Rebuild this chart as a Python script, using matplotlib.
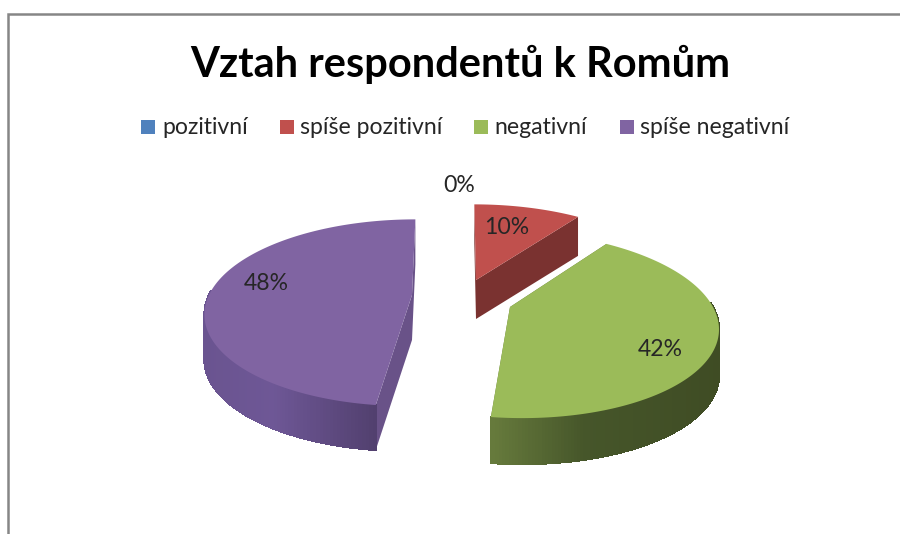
import matplotlib
matplotlib.use('Agg')
import matplotlib.pyplot as plt
from matplotlib.collections import PolyCollection
from matplotlib.patches import Polygon, Rectangle
import numpy as np

title = 'Vztah respondentů k Romům'
categories = ['pozitivní', 'spíše pozitivní', 'negativní', 'spíše negativní']
values = [0, 10, 42, 48]

colors = ['#4F81BD', '#C0504D', '#9BBB59', '#8064A2']
wall_colors = ['#2F4D71', '#7A3230', '#63753A', '#695288']
# colours of the outer rim: left end, middle, right end
rim_colors = [
    ['#3A6090', '#2F4D71', '#263E5B'],
    ['#7A3230', '#7A3230', '#7A3230'],
    ['#667A3C', '#46562A', '#3F4C24'],
    ['#6A5490', '#6E5796', '#52406F'],
]

# pie geometry in pixels
apex = [(459, 215), (476, 280), (510, 307), (412, 295)]
lean = [0, 2, 10, -4]
depth = [40, 39, 46, 45]
rx, ry, persp = 203, 90, 0.19


def project(i, angle):
    # angle is clockwise from 12 o'clock, in degrees
    u = np.sin(np.radians(angle))
    v = -np.cos(np.radians(angle))
    s = 1 / (1 - persp * v)
    return apex[i][0] + (rx * u + lean[i] * v) * s, apex[i][1] + ry * v * s


def hex_rgb(c):
    return np.array(matplotlib.colors.to_rgb(c))


fig = plt.figure(figsize=(9, 5.34), dpi=100)
ax = fig.add_axes([0, 0, 1, 1])
ax.set_xlim(0, 900)
ax.set_ylim(534, 0)
ax.axis('off')

# chart frame
ax.plot([8, 8, 900], [534, 14, 14], color='#868686', lw=1.8, solid_joinstyle='miter')

ax.text(460, 64, title, ha='center', va='center', fontsize=30, fontweight='bold',
        family='Lato', color='black')

# legend
swatch_x = [141, 280, 474, 620]
label_x = [162, 300, 494, 640]
for c, sx, lx, name in zip(colors, swatch_x, label_x, categories):
    ax.add_patch(Rectangle((sx, 120), 14, 14, facecolor=c, edgecolor='none'))
    ax.text(lx, 127, name, ha='left', va='center', fontsize=16.6, family='Lato', color='#262626')

start = 0
for i, val in enumerate(values):
    sweep = val * 3.6
    if val == 0:
        continue
    ang = np.linspace(start, start + sweep, 200)
    x, y = project(i, ang)
    d = depth[i]

    # cut faces of the slice
    for k in [0, -1]:
        ax.add_patch(Polygon([apex[i], (x[k], y[k]), (x[k], y[k] + d), (apex[i][0], apex[i][1] + d)],
                             facecolor=wall_colors[i], edgecolor='none'))

    # outer rim as thin strips so it can be shaded from left to right
    front = np.cos(np.radians(ang)) < 0.05
    xf, yf = x[front], y[front]
    if len(xf) > 1:
        polys = [[(xf[j], yf[j]), (xf[j + 1], yf[j + 1]), (xf[j + 1], yf[j + 1] + d), (xf[j], yf[j] + d)]
                 for j in range(len(xf) - 1)]
        mids = (xf[:-1] + xf[1:]) / 2
        t = (mids - mids.min()) / (mids.max() - mids.min())
        rim = np.array([hex_rgb(c) for c in rim_colors[i]])
        shades = np.array([np.interp(t, [0, 0.4, 1], rim[:, n]) for n in range(3)]).T
        ax.add_collection(PolyCollection(polys, facecolors=shades, edgecolors=shades,
                                         linewidths=0.8, antialiaseds=False))

    # top face
    ax.add_patch(Polygon(np.vstack([apex[i], np.column_stack([x, y])]), closed=True,
                         facecolor=colors[i], edgecolor='none'))
    start += sweep

# value labels
label_pos = [(459, 186), (507, 228), (660, 350), (266, 284)]
for val, (px, py) in zip(values, label_pos):
    ax.text(px, py, f'{val}%', ha='center', va='center', fontsize=16.6, family='Lato', color='#262626')

fig.savefig('out.png', dpi=100)
